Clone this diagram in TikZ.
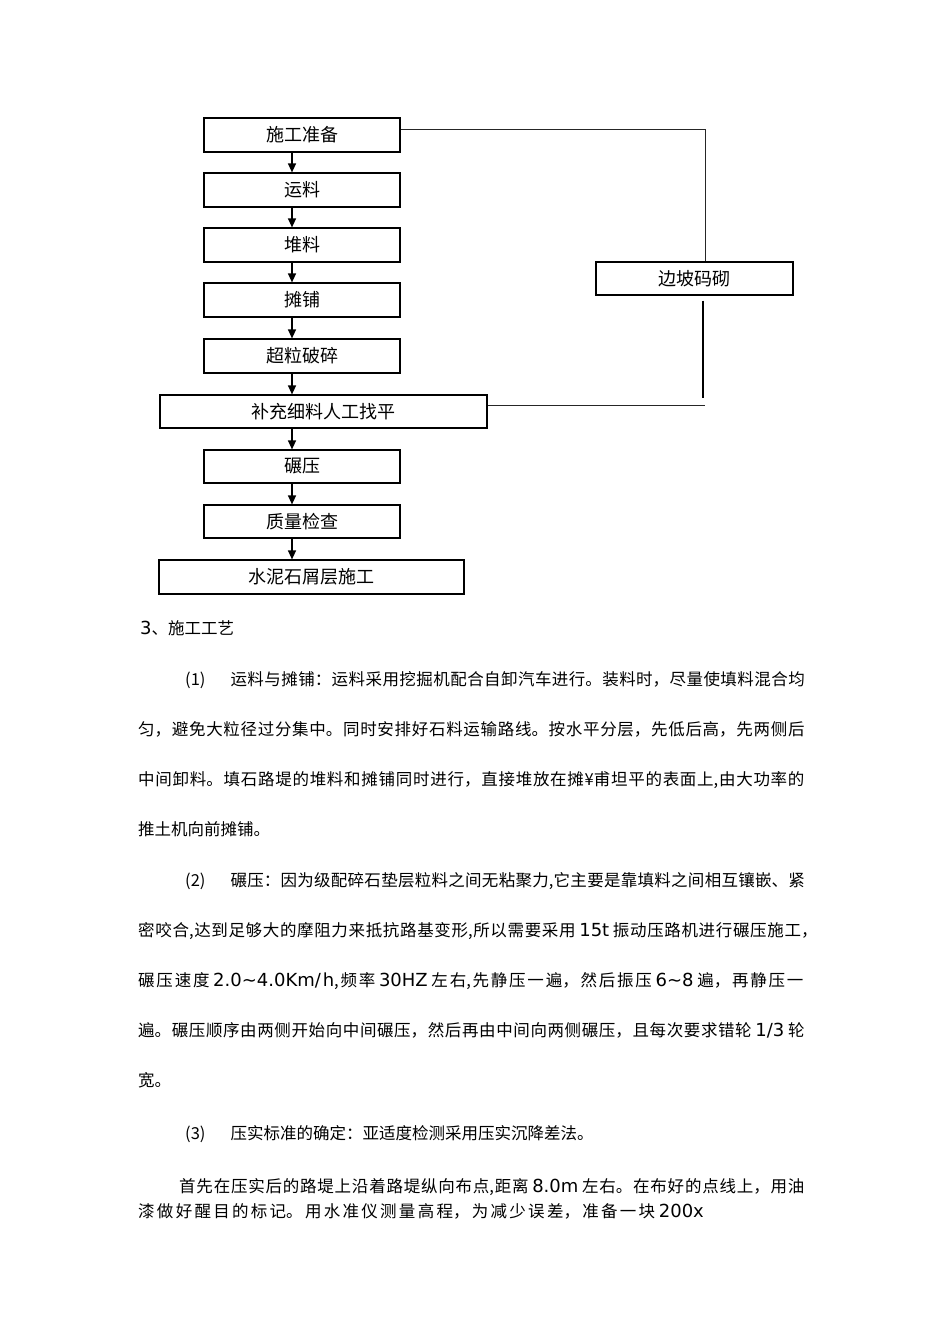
\documentclass[tikz,border=0pt]{standalone}
\usepackage{fontspec}
\setmainfont{Noto Sans CJK SC}
\newfontfamily\latfam{DejaVu Sans}
\usetikzlibrary{arrows.meta}
\XeTeXlinebreaklocale "zh"
\XeTeXlinebreakskip=0pt plus 1fil
\newcommand\latn[1]{{\latfam\fontsize{18}{20}\selectfont #1}}
\begin{document}
\begin{tikzpicture}[x=1pt,y=-1pt,
  box/.style={draw=black, line width=1.2pt, inner sep=0pt, font=\fontsize{18}{20}\selectfont},
  arr/.style={line width=1.3pt, -{Triangle[width=8pt,length=9pt]}},
  conn/.style={draw=black!85, line width=1pt},
  thick conn/.style={draw=black, line width=2pt},
  txt/.style={anchor=base west, inner sep=0pt, font=\fontsize{16.5}{20}\selectfont},
  jline/.style={txt, text width=#1, align=justify}
]
\useasboundingbox[fill=white] (0,0) rectangle (950,1344);

% flow chart boxes
\node[box, minimum width=196pt, minimum height=34pt] (prep) at (302,135) {施工准备};
\node[box, minimum width=196pt, minimum height=34pt] (yun) at (302,190) {运料};
\node[box, minimum width=196pt, minimum height=34pt] (dui) at (302,245) {堆料};
\node[box, minimum width=196pt, minimum height=34pt] (tan) at (302,300) {摊铺};
\node[box, minimum width=196pt, minimum height=34pt] (chao) at (302,356) {超粒破碎};
\node[box, minimum width=327pt, minimum height=33pt] (fill) at (323.5,411.5) {补充细料人工找平};
\node[box, minimum width=196pt, minimum height=33pt] (nian) at (302,466.5) {碾压};
\node[box, minimum width=196pt, minimum height=33pt] (zhi) at (302,521.5) {质量检查};
\node[box, minimum width=305pt, minimum height=34pt] (shui) at (311.5,577) {水泥石屑层施工};
\node[box, minimum width=197pt, minimum height=33pt] (slope) at (694.5,278.5) {边坡码砌};

% arrows
\coordinate (ax) at (292,0);
\draw[arr] (prep.south -| ax) -- (yun.north -| ax);
\draw[arr] (yun.south -| ax) -- (dui.north -| ax);
\draw[arr] (dui.south -| ax) -- (tan.north -| ax);
\draw[arr] (tan.south -| ax) -- (chao.north -| ax);
\draw[arr] (chao.south -| ax) -- (fill.north -| ax);
\draw[arr] (fill.south -| ax) -- (nian.north -| ax);
\draw[arr] (nian.south -| ax) -- (zhi.north -| ax);
\draw[arr] (zhi.south -| ax) -- (shui.north -| ax);

% side branch
\draw[conn] ([yshift=6pt]prep.east) -| ([xshift=10.5pt]slope.north);
\coordinate (vb) at (703,398);
\draw[thick conn] ([xshift=8.5pt,yshift=-5pt]slope.south) -- (vb);
\coordinate (hr) at (705,405);
\draw[conn] ([yshift=6.5pt]fill.east) -- (hr);

% body text
\node[txt] (t0) at (140,634.5) {\latn{3}、施工工艺};
\node[jline=667pt] (t1) at (138,685.5) {\parfillskip=0pt\relax\hspace*{47pt}(1)\hspace*{25pt}运料与摊铺：运料采用挖掘机配合自卸汽车进行。装料时，尽量使填料混合均};
\node[jline=667pt] (t2) at (138,735.5) {\parfillskip=0pt\relax 匀，避免大粒径过分集中。同时安排好石料运输路线。按水平分层，先低后高，先两侧后};
\node[jline=667pt] (t3) at (138,785.5) {\parfillskip=0pt\relax 中间卸料。填石路堤的堆料和摊铺同时进行，直接堆放在摊¥甫坦平的表面上,由大功率的};
\node[txt] (t4) at (138,835.5) {推土机向前摊铺。};
\node[jline=667pt] (t5) at (138,886.5) {\parfillskip=0pt\relax\hspace*{47pt}(2)\hspace*{25pt}碾压：因为级配碎石垫层粒料之间无粘聚力,它主要是靠填料之间相互镶嵌、紧};
\node[jline=680pt] (t6) at (138,936.5) {\parfillskip=0pt\relax 密咬合,达到足够大的摩阻力来抵抗路基变形,所以需要采用 \latn{15t} 振动压路机进行碾压施工，};
\node[jline=667pt] (t7) at (138,986.5) {\parfillskip=0pt\relax 碾压速度 \latn{2.0\textasciitilde4.0Km/h},频率 \latn{30HZ} 左右,先静压一遍，然后振压 \latn{6\textasciitilde8} 遍，再静压一};
\node[jline=667pt] (t8) at (138,1036.5) {\parfillskip=0pt\relax 遍。碾压顺序由两侧开始向中间碾压，然后再由中间向两侧碾压，且每次要求错轮 \latn{1/3} 轮};
\node[txt] (t9) at (138,1086.5) {宽。};
\node[txt] (t10) at (138,1139.5) {\hspace*{47pt}(3)\hspace*{25pt}压实标准的确定：亚适度检测采用压实沉降差法。};
\node[jline=667pt] (t11) at (138,1192.5) {\parfillskip=0pt\relax\hspace*{41pt}首先在压实后的路堤上沿着路堤纵向布点,距离 \latn{8.0m} 左右。在布好的点线上，用油};
\node[jline=568pt] (t12) at (138,1217.5) {\parfillskip=0pt\relax 漆做好醒目的标记。用水准仪测量高程，为减少误差，准备一块 \latn{200x}};
\end{tikzpicture}
\end{document}
